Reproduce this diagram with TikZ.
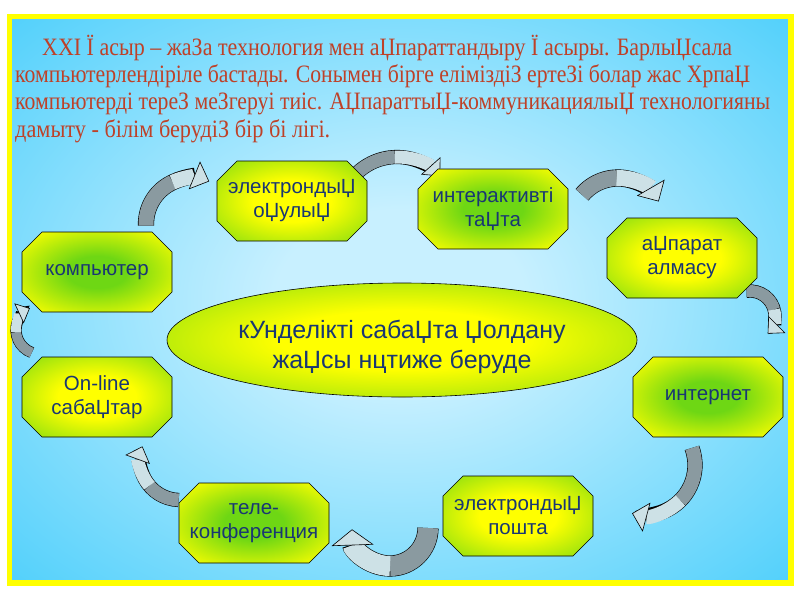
\documentclass[tikz,border=0pt]{standalone}
\usepackage{fontspec}
\setmainfont{Liberation Serif}
\newfontfamily\sansf{Liberation Sans}
\usetikzlibrary{arrows.meta,calc}
\definecolor{bgblue}{RGB}{51,200,250}
\definecolor{bglight}{RGB}{200,240,255}
\definecolor{nyellow}{RGB}{255,255,0}
\definecolor{ngreen}{RGB}{110,215,20}
\definecolor{navy}{RGB}{25,55,115}
\definecolor{tred}{RGB}{190,65,40}
\definecolor{arrdark}{RGB}{138,154,160}
\definecolor{arrlight}{RGB}{205,225,230}
\definecolor{frameyellow}{RGB}{255,255,0}
\pgfdeclareradialshading{bgs}{\pgfpoint{0bp}{0bp}}{color(0bp)=(bglight); color(8bp)=(bglight); color(43bp)=(bgblue); color(100bp)=(bgblue)}
\pgfdeclareradialshading{yg}{\pgfpoint{0bp}{0bp}}{color(0bp)=(nyellow); color(13bp)=(nyellow); color(40bp)=(ngreen); color(100bp)=(ngreen)}
\pgfdeclareradialshading{gy}{\pgfpoint{0bp}{0bp}}{color(0bp)=(ngreen); color(10bp)=(ngreen); color(34bp)=(nyellow); color(100bp)=(nyellow)}
\tikzset{
  ntext/.style={font=\sansf\fontsize{20.5}{24}\selectfont, text=navy, align=center, inner sep=0pt},
  etext/.style={font=\sansf\fontsize{25}{30}\selectfont, text=navy, align=center, inner sep=0pt},
  ptext/.style={font=\fontsize{25}{29}\selectfont, text=tred, anchor=base west, inner sep=0pt},
  octline/.style={draw=black, line width=0.6pt},
}
% octagon: name, cx, cy, shading, text
\newcommand\octa[5]{%
  \shade[shading=#4, octline] (#2-55,#3-40) -- (#2+55,#3-40) -- (#2+75,#3-20) -- (#2+75,#3+20) -- (#2+55,#3+40) -- (#2-55,#3+40) -- (#2-75,#3+20) -- (#2-75,#3-20) -- cycle;
  \node[ntext] (#1) at (#2,#3) {#5};}
% arc arrow: centre, radius, start angle, middle angle, end angle, band width, head width, head length
\newcommand\carc[8]{%
  \draw[line width=#6+1.2pt, black, line cap=butt, shorten >=#8-1pt] ($(#1)+(#3:#2)$) arc[start angle=#3, end angle=#5, radius=#2];
  \draw[line width=#6, arrdark, line cap=butt] ($(#1)+(#3:#2)$) arc[start angle=#3, end angle=#4, radius=#2];
  \draw[line width=#6, arrlight, line cap=butt, -{Triangle[width=#7, length=#8, line width=0.6pt, color=black, fill=arrlight]}] ($(#1)+(#4:#2)$) arc[start angle=#4, end angle=#5, radius=#2];}
\begin{document}
\begin{tikzpicture}[x=1pt,y=-1pt]
\useasboundingbox (0,0) rectangle (800,600);
\fill[white] (0,0) rectangle (800,600);
\shade[shading=bgs] (12,19) rectangle (788,580);
\draw[frameyellow, line width=5.5pt] (9.25,16.25) rectangle (790.75,582.75);
% header text
\node[ptext] (t1) at (42,55) {\resizebox{690pt}{\height}{XXI Ї асыр – жаЗа технология мен аЏпараттандыру Ї асыры. БарлыЏсала}};
\node[ptext] (t2) at (15,82) {\resizebox{735pt}{\height}{компьютерлендіріле бастады. Сонымен бірге еліміздіЗ ертеЗі болар жас ХрпаЏ}};
\node[ptext] (t3) at (15,109) {\resizebox{755pt}{\height}{компьютерді тереЗ меЗгеруі тиіс. АЏпараттыЏ-коммуникациялыЏ технологияны}};
\node[ptext] (t4) at (15,137) {\resizebox{315pt}{\height}{дамыту - білім берудіЗ бір бі лігі.}};
% arrows
\carc{192,224}{46}{178}{245}{292}{15pt}{30pt}{16pt}
\carc{397,215}{58}{225}{268}{318}{13pt}{26pt}{14pt}
\carc{618,225}{47}{220}{268}{330}{16pt}{32pt}{16pt}
\carc{750,316}{25}{262}{345}{405}{12pt}{24pt}{13pt}
\carc{645,465}{50}{-20}{45}{105}{14pt}{30pt}{15pt}
\carc{390,528}{38}{0}{90}{178}{20pt}{42pt}{16pt}
\carc{180,460}{40}{92}{140}{200}{13pt}{26pt}{14pt}
\carc{40,330}{24}{110}{175}{245}{10pt}{22pt}{12pt}
% nodes
\octa{eo}{292}{201}{yg}{электрондыЏ\\оЏулыЏ}
\octa{it}{493}{209}{gy}{интерактивті\\таЏта}
\octa{ko}{97}{272}{gy}{компьютер}
\octa{ol}{97}{397}{yg}{On-line\\сабаЏтар}
\octa{aa}{682}{258}{yg}{аЏпарат\\алмасу}
\octa{in}{708}{397}{gy}{интернет}
\octa{tk}{254}{523}{gy}{теле-\\конференция}
\octa{ep}{518}{516}{yg}{электрондыЏ\\пошта}
% central ellipse
\shade[shading=yg, octline] (402,340) ellipse [x radius=235pt, y radius=57pt];
\node[etext] (center) at (402,347) {кУнделікті сабаЏта Џолдану\\жаЏсы нцтиже беруде};
\end{tikzpicture}
\end{document}
